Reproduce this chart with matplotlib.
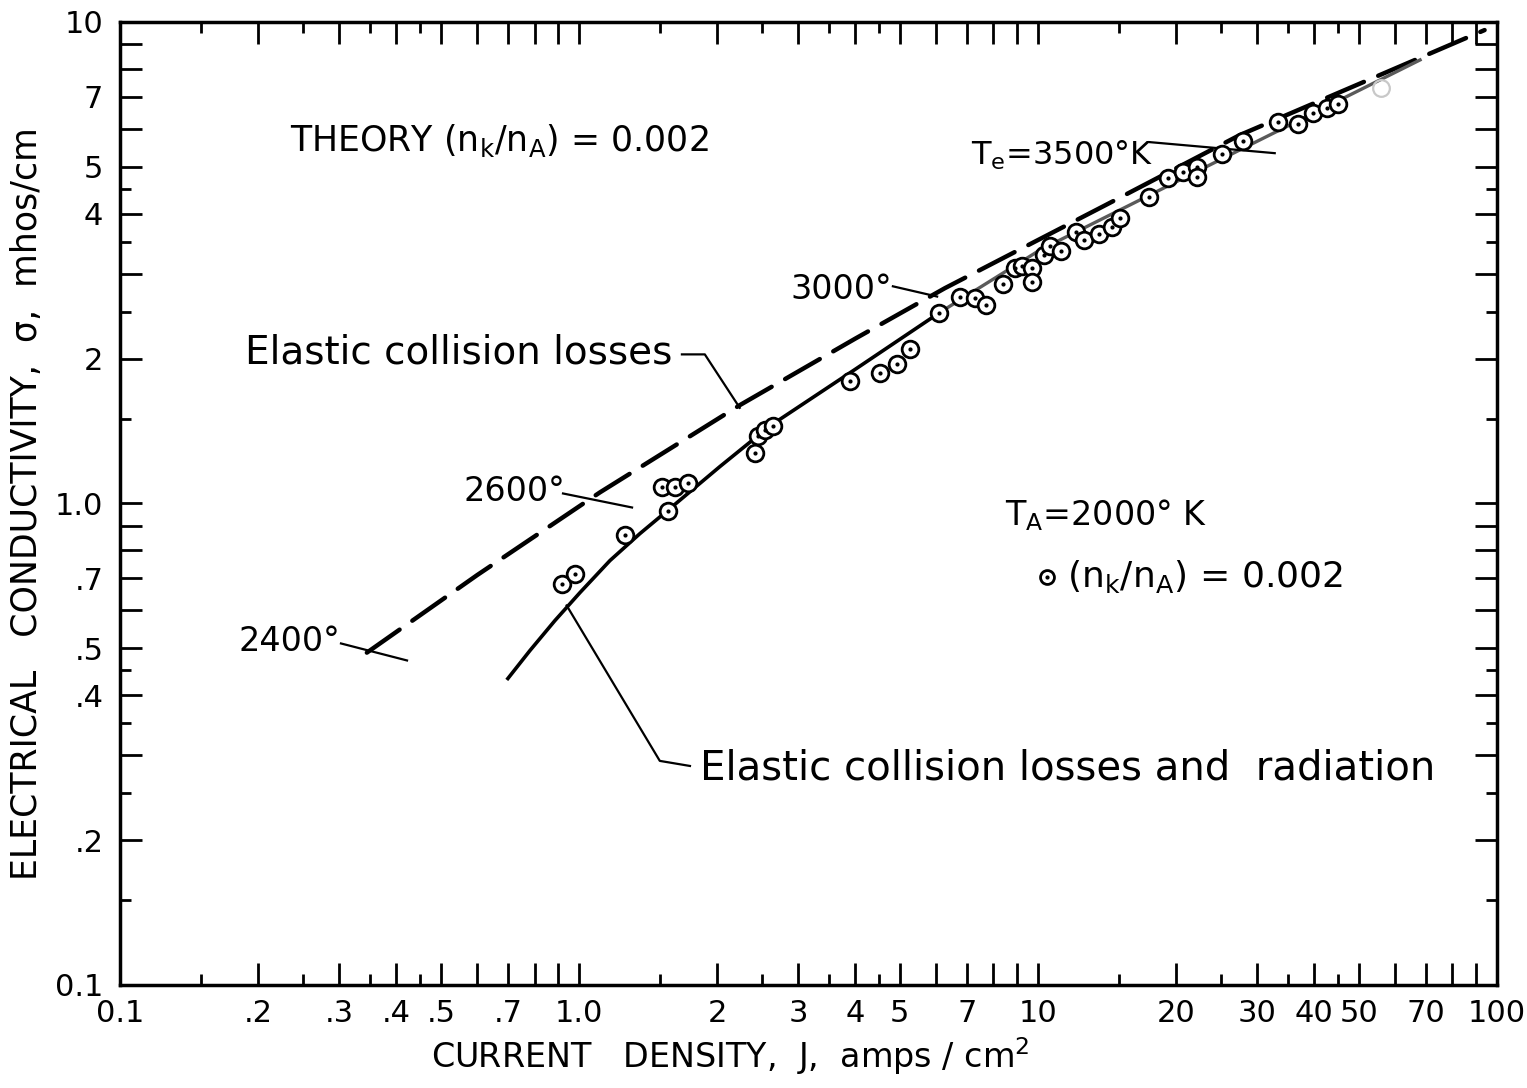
import matplotlib
matplotlib.use('Agg')
import matplotlib.pyplot as plt
from matplotlib.ticker import FixedLocator, FixedFormatter, NullFormatter

plt.rcParams['font.family'] = ['DejaVu Sans']
plt.rcParams['mathtext.default'] = 'regular'

# measured points, T_A = 2000 K, (n_k/n_A) = 0.002
current_density = [0.92, 0.98, 1.26, 1.52, 1.62, 1.73, 1.56, 2.42, 2.45, 2.54, 2.65,
                   3.89, 4.53, 4.93, 5.26, 6.1, 6.76, 7.29, 7.71, 8.4, 8.9, 9.25,
                   9.7, 9.7, 10.3, 10.6, 11.2, 12.1, 12.6, 13.6, 14.5, 15.1, 17.5,
                   19.2, 20.7, 22.2, 22.2, 25.2, 28.0, 33.3, 36.9, 39.7, 42.6, 45.0]
conductivity = [0.68, 0.715, 0.86, 1.08, 1.08, 1.105, 0.965, 1.27, 1.38, 1.42, 1.45,
                1.80, 1.87, 1.95, 2.09, 2.49, 2.68, 2.67, 2.58, 2.85, 3.08, 3.12,
                3.08, 2.88, 3.28, 3.42, 3.34, 3.66, 3.52, 3.63, 3.76, 3.91, 4.33,
                4.74, 4.88, 5.0, 4.76, 5.32, 5.66, 6.19, 6.15, 6.47, 6.63, 6.77]
faded_density = [56.0]
faded_conductivity = [7.3]

# theory: elastic collision losses only (dashed)
elastic_J = [0.345, 0.6, 1.11, 2.24, 4.0, 6.27, 14.0, 27.5, 50.0, 94.0]
elastic_sigma = [0.49, 0.71, 1.054, 1.60, 2.2, 2.80, 4.16, 5.82, 7.43, 9.62]

# theory: elastic collision losses and radiation (solid)
radiation_J = [0.70, 0.782, 0.886, 1.005, 1.168, 1.358, 1.56, 2.03, 2.61, 4.0, 6.1,
               10.1, 27.5, 68.0]
radiation_sigma = [0.433, 0.495, 0.571, 0.653, 0.761, 0.866, 0.967, 1.194, 1.45, 1.90,
                   2.49, 3.36, 5.42, 8.34]

# leader lines for the annotations
leader_elastic = ([1.676, 1.88, 2.24], [2.04, 2.04, 1.58])
leader_radiation = ([0.94, 1.50, 1.745], [0.614, 0.292, 0.285])
leader_2400 = ([0.303, 0.422], [0.512, 0.472])
leader_2600 = ([0.923, 1.305], [1.049, 0.981])
leader_3000 = ([4.83, 6.03], [2.825, 2.69])
leader_3500 = ([17.5, 32.8], [5.63, 5.34])

x_major = [0.1, 0.2, 0.3, 0.4, 0.5, 0.6, 0.7, 0.8, 0.9, 1, 2, 3, 4, 5, 6, 7, 8, 9,
           10, 20, 30, 40, 50, 60, 70, 80, 90, 100]
x_minor = [0.15, 0.25, 0.35, 0.45, 1.5, 2.5, 3.5, 4.5, 15, 25, 35, 45]
x_labels = {0.1: '0.1', 0.2: '.2', 0.3: '.3', 0.4: '.4', 0.5: '.5', 0.7: '.7',
            1: '1.0', 2: '2', 3: '3', 4: '4', 5: '5', 7: '7', 10: '10', 20: '20',
            30: '30', 40: '40', 50: '50', 70: '70', 100: '100'}
y_major = [0.1, 0.2, 0.3, 0.4, 0.5, 0.6, 0.7, 0.8, 0.9, 1, 2, 3, 4, 5, 6, 7, 8, 9, 10]
y_minor = [0.15, 0.25, 0.35, 0.45, 1.5, 2.5, 3.5, 4.5]
y_labels = {0.1: '0.1', 0.2: '.2', 0.4: '.4', 0.5: '.5', 0.7: '.7', 1: '1.0',
            2: '2', 4: '4', 5: '5', 7: '7', 10: '10'}

fig = plt.figure(figsize=(15.27, 10.88), dpi=100)
ax = fig.add_axes([0.0786, 0.0947, 0.9017, 0.8851])
ax.set_xscale('log')
ax.set_yscale('log')
ax.set_xlim(0.1, 100)
ax.set_ylim(0.1, 10)

ax.plot(elastic_J, elastic_sigma, color='black', lw=3.2, dashes=[9, 3.5],
        solid_capstyle='round', dash_capstyle='round')
ax.plot(radiation_J[:11], radiation_sigma[:11], color='black', lw=2.6)
ax.plot(radiation_J[10:], radiation_sigma[10:], color='#5a5a5a', lw=2.4)

for xs, ys in [leader_elastic, leader_radiation, leader_2400, leader_2600,
               leader_3000, leader_3500]:
    ax.plot(xs, ys, color='black', lw=1.6)

ax.plot(current_density, conductivity, 'o', ms=12, mfc='white', mec='black', mew=2.0)
ax.plot(current_density, conductivity, '.', ms=4, color='black')
ax.plot(faded_density, faded_conductivity, 'o', ms=12, mfc='none', mec='#c8c8c8', mew=1.6)

ax.xaxis.set_major_locator(FixedLocator(x_major))
ax.xaxis.set_minor_locator(FixedLocator(x_minor))
ax.xaxis.set_major_formatter(FixedFormatter([x_labels.get(v, '') for v in x_major]))
ax.xaxis.set_minor_formatter(NullFormatter())
ax.yaxis.set_major_locator(FixedLocator(y_major))
ax.yaxis.set_minor_locator(FixedLocator(y_minor))
ax.yaxis.set_major_formatter(FixedFormatter([y_labels.get(v, '') for v in y_major]))
ax.yaxis.set_minor_formatter(NullFormatter())

ax.tick_params(which='both', direction='in', top=True, right=True, width=2.0,
               labelsize=22)
ax.tick_params(which='major', length=16)
ax.tick_params(which='minor', length=8)
ax.tick_params(axis='x', which='major', pad=10)
ax.tick_params(axis='y', which='major', pad=12)
for side in ax.spines.values():
    side.set_linewidth(2.5)

ax.set_xlabel('CURRENT   DENSITY,  J,  amps / cm$^2$', fontsize=24)
ax.set_ylabel('ELECTRICAL   CONDUCTIVITY,  σ,  mhos/cm', fontsize=25)
ax.xaxis.set_label_coords(0.443, -0.052)
ax.yaxis.set_label_coords(-0.055, 0.5)

tx = dict(transform=ax.transAxes, fontsize=24, color='black')
ax.text(0.1235, 0.877, r'THEORY $\left(n_k / n_A\right)$ = 0.002', va='center', ha='left',
        fontsize=25, transform=ax.transAxes)
ax.text(0.0908, 0.657, 'Elastic collision losses', va='center', ha='left', fontsize=28,
        transform=ax.transAxes)
ax.text(0.421, 0.225, 'Elastic collision losses and  radiation', va='center', ha='left',
        fontsize=29, transform=ax.transAxes)
ax.text(0.1598, 0.357, '2400°', va='center', ha='right', **tx)
ax.text(0.323, 0.512, '2600°', va='center', ha='right', **tx)
ax.text(0.561, 0.722, '3000°', va='center', ha='right', **tx)
ax.text(0.618, 0.862, 'T$_e$=3500°K', va='center', ha='left', fontsize=23,
        transform=ax.transAxes)
ax.text(0.643, 0.488, 'T$_A$=2000° K', va='center', ha='left', **tx)
ax.text(0.688, 0.424, r'$\left(n_k / n_A\right)$ = 0.002', va='center', ha='left',
        fontsize=26, transform=ax.transAxes)
ax.plot([0.673], [0.424], 'o', ms=10, mfc='white', mec='black', mew=2.0,
        transform=ax.transAxes)
ax.plot([0.673], [0.424], '.', ms=4, color='black', transform=ax.transAxes)

fig.savefig('out.png', dpi=100)
